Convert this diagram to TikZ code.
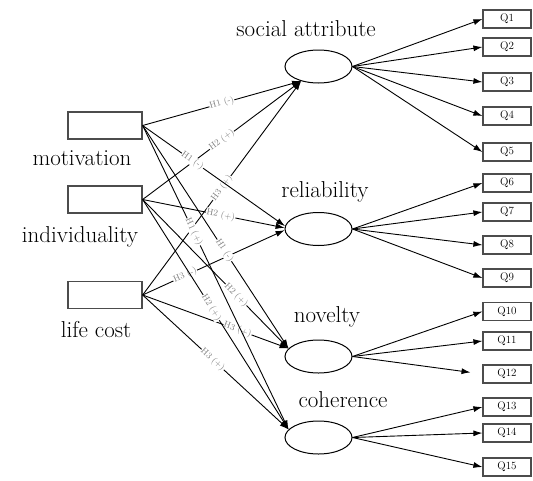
\documentclass[tikz,border=0pt]{standalone}
\usetikzlibrary{arrows.meta,shapes.geometric}
\begin{document}
\begin{tikzpicture}[x=1pt,y=-1pt,
  srcbox/.style={draw=black!70, line width=1.3pt, minimum width=74pt, minimum height=27pt, inner sep=0pt},
  qbox/.style={draw=black!70, line width=1.2pt, minimum width=48pt, minimum height=18pt, inner sep=0pt, font=\fontsize{11}{12}\selectfont},
  lat/.style={ellipse, draw, line width=1pt, minimum width=67pt, minimum height=33pt, inner sep=0pt},
  lbl/.style={font=\fontsize{23}{26}\selectfont, inner sep=0pt, anchor=base},
  hyp/.style={sloped, fill=white, text=black!50, inner sep=0.4pt, font=\fontsize{9}{9}\selectfont},
  arr/.style={-{Latex[length=9pt,width=6pt]}, line width=0.9pt}]
\useasboundingbox (0,0) rectangle (533,480);

% source boxes
\node[srcbox] (mot) at (105,125.5) {};
\node[srcbox] (ind) at (105,199.5) {};
\node[srcbox] (life) at (105,295) {};
\node[lbl] (motl) at (82,165) {motivation};
\node[lbl] (indl) at (80,242) {individuality};
\node[lbl] (lifel) at (96,337) {life cost};

% latent ellipses
\node[lat] (soc) at (318.5,66.5) {};
\node[lat] (rel) at (318.5,229) {};
\node[lat] (nov) at (318.5,356.5) {};
\node[lat] (coh) at (318.5,437.5) {};
\node[lbl] (socl) at (306,36) {social attribute};
\node[lbl] (rell) at (325,197) {reliability};
\node[lbl] (novl) at (327,322) {novelty};
\node[lbl] (cohl) at (343,407) {coherence};

% Q boxes
\foreach \i/\y in {1/19,2/47,3/82,4/116,5/152,6/183,7/212,8/245,9/278,10/311.5,11/341,12/374,13/407,14/433,15/467}
  \node[qbox] (q\i) at (507,\y) {Q\i};

% hypothesis paths
\draw[arr] (mot.east) -- node[hyp,pos=0.5]{H1 (-)} (soc.220);
\draw[arr] (ind.east) -- node[hyp,pos=0.5]{H2 (+)} (soc.220);
\draw[arr] (life.east) -- node[hyp,pos=0.5]{H3 (+)} (soc.220);
\draw[arr] (mot.east) -- node[hyp,pos=0.35]{H1 (-)} (rel.175);
\draw[arr] (ind.east) -- node[hyp,pos=0.55]{H2 (+)} (rel.178);
\draw[arr] (life.east) -- node[hyp,pos=0.3]{H3 (-)} (rel.182);
\draw[arr] (mot.east) -- node[hyp,pos=0.56]{H1 (-)} (nov.165);
\draw[arr] (ind.east) -- node[hyp,pos=0.64]{H2 (+)} (nov.165);
\draw[arr] (life.east) -- node[hyp,pos=0.65]{H3 (+)} (nov.165);
\draw[arr] (mot.east) -- node[hyp,pos=0.35]{H1 (+)} (coh.165);
\draw[arr] (ind.east) -- node[hyp,pos=0.47]{H2 (+)} (coh.165);
\draw[arr] (life.east) -- node[hyp,pos=0.48]{H3 (+)} (coh.165);

% measurement paths
\foreach \i in {1,...,5} \draw[arr] (soc.east) -- (q\i.west);
\foreach \i in {6,...,9} \draw[arr] (rel.east) -- (q\i.west);
\draw[arr] (nov.east) -- (q10.west);
\draw[arr] (nov.east) -- (q11.west);
\draw[arr, shorten >=12pt] (nov.east) -- (q12.west);
\foreach \i in {13,14,15} \draw[arr] (coh.east) -- (q\i.west);
\end{tikzpicture}
\end{document}
